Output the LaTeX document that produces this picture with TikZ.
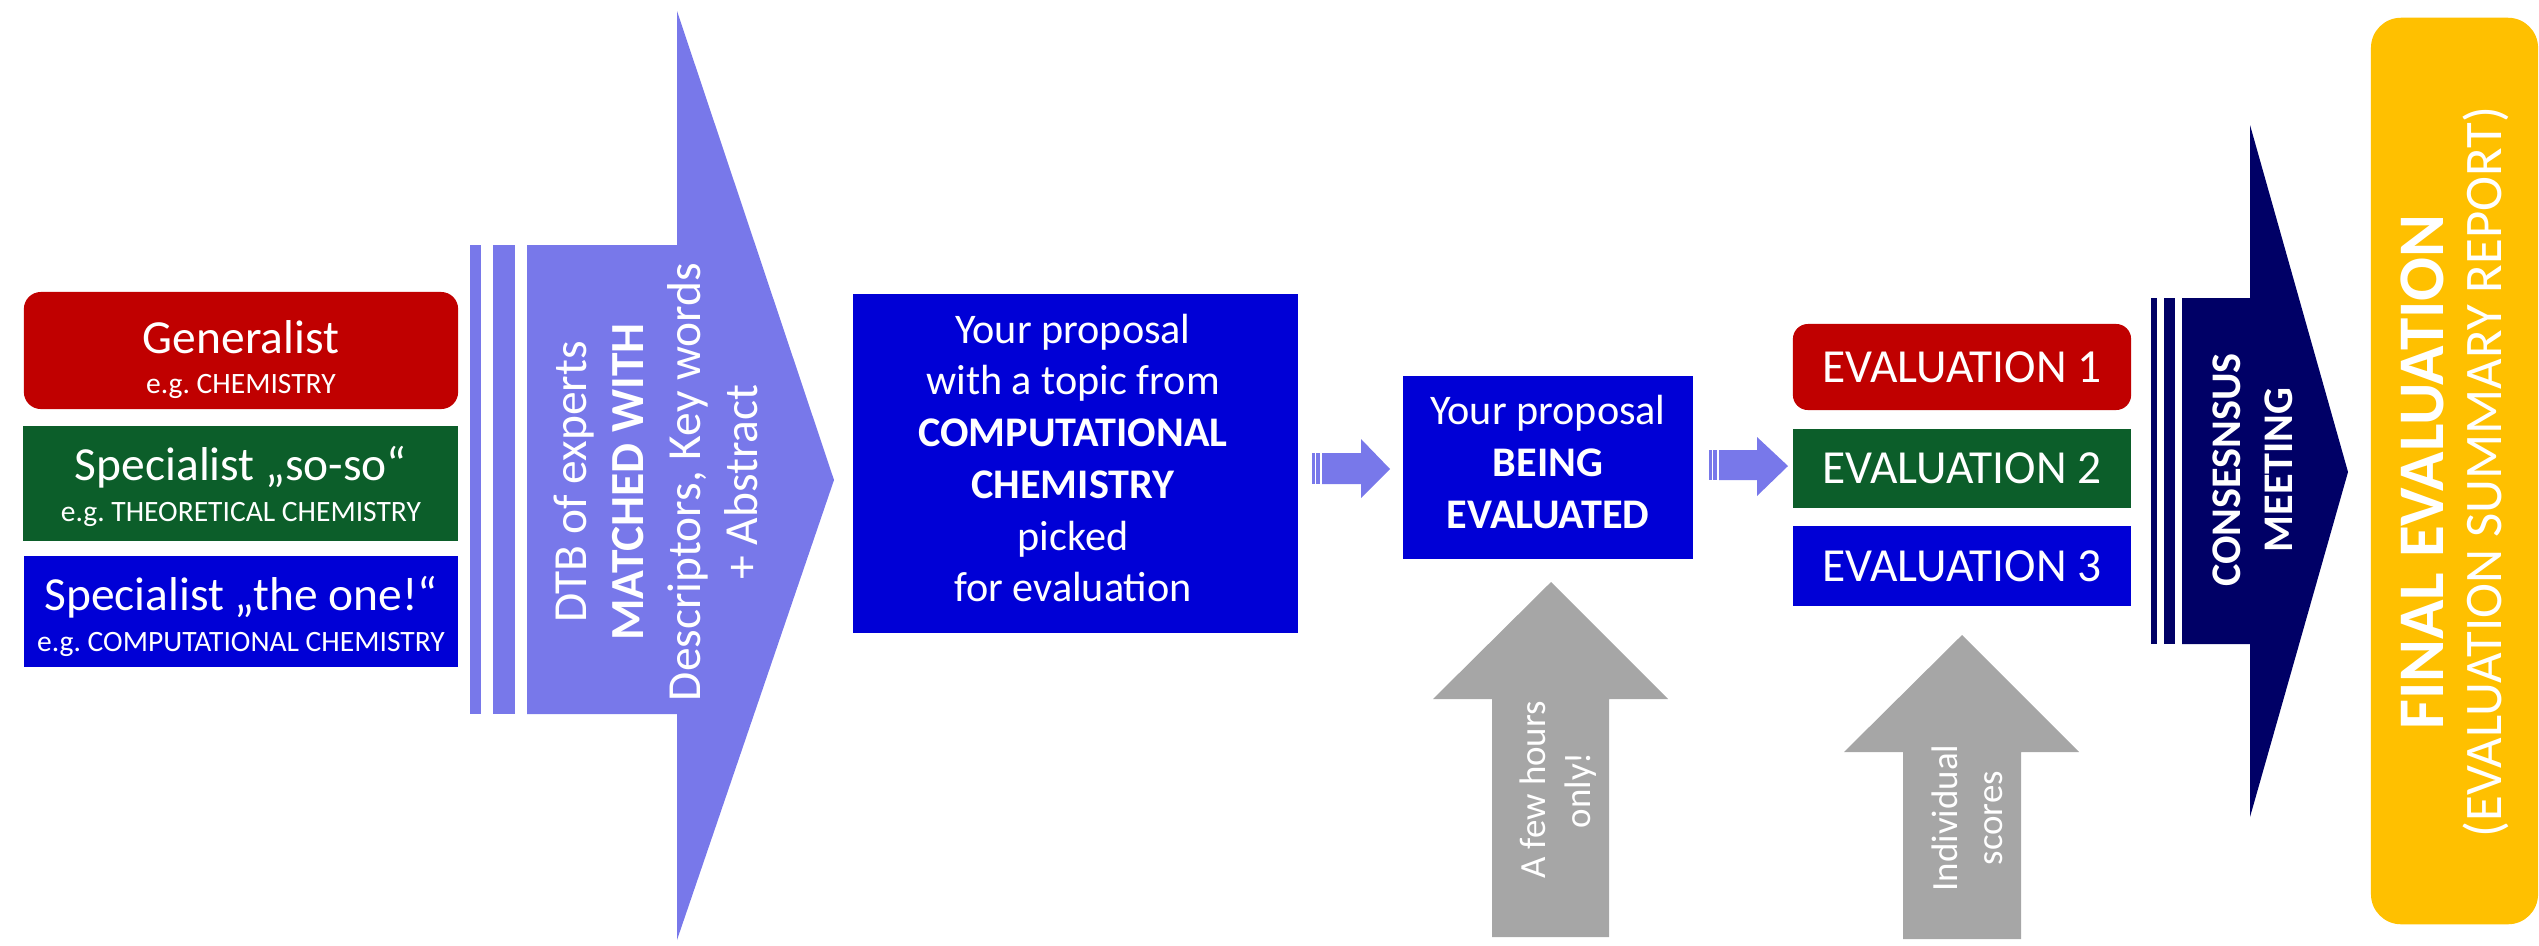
\documentclass[tikz,border=0pt]{standalone}
\usepackage{fontspec}
\setmainfont{Carlito}
\definecolor{redc}{HTML}{C00000}
\definecolor{greenc}{HTML}{0C5E2A}
\definecolor{bluec}{HTML}{0000D6}
\definecolor{lav}{HTML}{7878EA}
\definecolor{navy}{HTML}{000066}
\definecolor{greyc}{HTML}{A6A6A6}
\definecolor{yel}{HTML}{FFC000}
\begin{document}
\begin{tikzpicture}[x=0.01cm,y=-0.01cm,
  box/.style={inner sep=0pt, outer sep=0pt, draw=none},
  wt/.style={text=white, inner sep=0pt, outer sep=0pt},
  big/.style={font=\fontsize{13.5}{16.2}\selectfont},
  small/.style={font=\fontsize{8.4}{10}\selectfont},
  mid/.style={font=\fontsize{12}{14.7}\selectfont},
  greytxt/.style={font=\fontsize{10.5}{12.8}\selectfont},
]
\useasboundingbox (0,0) rectangle (2539,945);

% ---- expert boxes
\node[box, fill=redc, rounded corners=0.17cm, minimum width=4.34cm, minimum height=1.17cm] (gen) at (241,350.5) {};
\node[wt, big, anchor=base] (gen1) at (241,353) {Generalist};
\node[wt, small, anchor=base] (gen2) at (241,393) {e.g.\ CHEMISTRY};

\node[box, fill=greenc, minimum width=4.35cm, minimum height=1.15cm] (sso) at (240.5,483.5) {};
\node[wt, big, anchor=base] (sso1) at (241,480) {Specialist „so-so“};
\node[wt, small, anchor=base] (sso2) at (241,521) {e.g.\ THEORETICAL CHEMISTRY};

\node[box, fill=bluec, minimum width=4.34cm, minimum height=1.11cm] (one) at (241,611.5) {};
\node[wt, big, anchor=base] (one1) at (241,610) {Specialist „the one!“};
\node[wt, small, anchor=base] (one2) at (241,651) {e.g.\ COMPUTATIONAL CHEMISTRY};

% ---- big lavender striped arrow
\fill[lav] (470,245) rectangle (481,714);
\fill[lav] (493,245) rectangle (515,714);
\fill[lav] (527,245) -- (677,245) -- (677,11) -- (834,480) -- (677,940) -- (677,714) -- (527,714) -- cycle;
\node[wt, big, rotate=90, align=center] (dtb) at (656,482)
  {DTB of experts\\\textbf{MATCHED WITH}\\Descriptors, Key words\\+ Abstract};

% ---- proposal box
\node[box, fill=bluec, minimum width=4.45cm, minimum height=3.39cm] (prop) at (1075.5,463.5) {};
\node[wt, mid, align=center] (propt) at (1073,458)
  {Your proposal\\with a topic from\\\textbf{COMPUTATIONAL}\\\textbf{CHEMISTRY}\\picked\\for evaluation};

% ---- small arrow 1
\fill[lav] (1312,453) rectangle (1314.5,484);
\fill[lav] (1316,453) rectangle (1320,484);
\fill[lav] (1322,453) -- (1361,453) -- (1361,439) -- (1390,469) -- (1361,498) -- (1361,484) -- (1322,484) -- cycle;

% ---- being evaluated box
\node[box, fill=bluec, minimum width=2.90cm, minimum height=1.83cm] (being) at (1548,467.5) {};
\node[wt, mid, align=center] (beingt) at (1548,462)
  {Your proposal\\\textbf{BEING}\\\textbf{EVALUATED}};

% ---- grey arrow 1
\fill[greyc] (1492,937) -- (1492,699) -- (1433,699) -- (1551,582) -- (1668,699) -- (1609,699) -- (1609,937) -- cycle;
\node[wt, greytxt, rotate=90, align=center] (few) at (1558,790) {A few hours\\only!};

% ---- small arrow 2
\fill[lav] (1709,450) rectangle (1711.5,480);
\fill[lav] (1713,450) rectangle (1717,480);
\fill[lav] (1719,450) -- (1757,450) -- (1757,437) -- (1788,466) -- (1757,496) -- (1757,480) -- (1719,480) -- cycle;

% ---- evaluation boxes
\node[box, fill=redc, rounded corners=0.15cm, minimum width=3.38cm, minimum height=0.86cm, text=white, big] (ev1) at (1962,367) {EVALUATION 1};
\node[box, fill=greenc, minimum width=3.38cm, minimum height=0.79cm, text=white, big] (ev2) at (1962,468.5) {EVALUATION 2};
\node[box, fill=bluec, minimum width=3.38cm, minimum height=0.80cm, text=white, big] (ev3) at (1962,566) {EVALUATION 3};

% ---- grey arrow 2
\fill[greyc] (1903,939) -- (1903,752) -- (1844,752) -- (1962,635) -- (2079,752) -- (2021,752) -- (2021,939) -- cycle;
\node[wt, greytxt, rotate=90, align=center] (ind) at (1967,818) {Individual\\scores};

% ---- navy striped arrow
\fill[navy] (2151,298) rectangle (2157,644);
\fill[navy] (2164,298) rectangle (2175,644);
\fill[navy] (2182,298) -- (2250,298) -- (2250,125) -- (2348,472) -- (2250,817) -- (2250,644) -- (2182,644) -- cycle;
\node[wt, rotate=90, align=center, font=\fontsize{12}{14.8}\selectfont\bfseries] (cons) at (2253,470) {CONSESNSUS\\MEETING};

% ---- final evaluation box
\node[box, fill=yel, rounded corners=0.3cm, minimum width=1.67cm, minimum height=9.06cm] (fin) at (2454.5,471) {};
\node[wt, rotate=90, align=center, font=\fontsize{15}{16.5}\selectfont] (fint) at (2455,472)
  {{\fontsize{18.5}{16.5}\selectfont\bfseries FINAL EVALUATION}\\(EVALUATION SUMMARY REPORT)};
\end{tikzpicture}
\end{document}
